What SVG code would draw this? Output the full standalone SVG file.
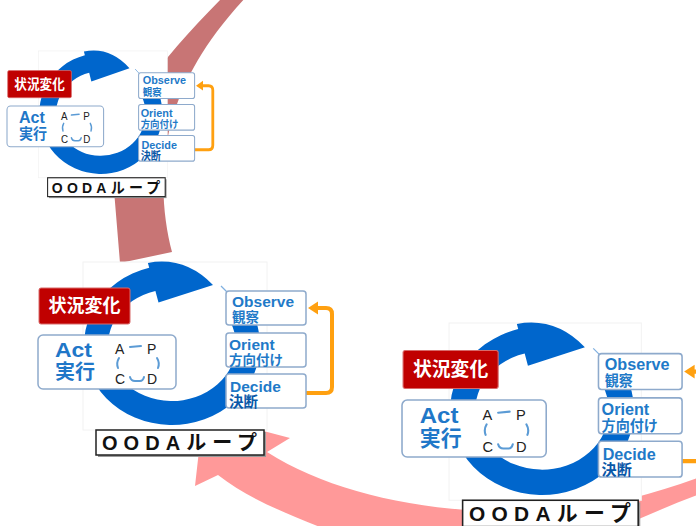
<svg xmlns="http://www.w3.org/2000/svg" width="696" height="526" viewBox="0 0 696 526">
<style>
.panel{fill:#fff;stroke:#f2f2f2;stroke-width:1}
.ring{fill:#0066cc}
.tick{stroke:#7fb0e0;stroke-width:1.2;fill:none}
.chg{fill:#c00000;stroke:#d86a6a;stroke-width:1}
.chgt{font-family:"Noto Sans CJK JP",sans-serif;font-weight:bold;font-size:18px;fill:#fff;text-anchor:middle}
.box{fill:#fff;stroke:#8eaacc;stroke-width:1.5}
.act{font-family:"Liberation Sans","Noto Sans CJK JP",sans-serif;font-weight:bold;font-size:21px;fill:#1f77c8}
.actj{font-family:"Noto Sans CJK JP",sans-serif;font-weight:bold;font-size:20px;fill:#1f77c8}
.pd{font-family:"Liberation Sans",sans-serif;font-size:14px;fill:#222}
.pdl{fill:none;stroke:#5b9bd5;stroke-width:2;stroke-linecap:round}
.en{font-family:"Liberation Sans",sans-serif;font-weight:bold;font-size:15.5px;fill:#1f7ac8}
.jp{font-family:"Noto Sans CJK JP",sans-serif;font-weight:bold;font-size:13.5px;fill:#1f7ac8}
.jpd{font-family:"Noto Sans CJK JP",sans-serif;font-weight:bold;font-size:14.5px;fill:#0a58a8}
.lbl{fill:#fff;stroke:#222;stroke-width:1.5}
.shd{fill:#9a9a9a}
.lblt{font-family:"Liberation Sans","Noto Sans CJK JP",sans-serif;font-weight:bold;font-size:20px;fill:#111}
.loop{fill:none;stroke:#ffa010;stroke-width:4;stroke-linejoin:round}
.loophead{fill:#ffa010}
.arcdark{fill:#c87575}
.arcpink{fill:#ff9999}
</style>

<g id="connectors">
  <path id="arc-top" class="arcdark" d="M225 -5 C160 60 112 120 113 178 L120 263 L172 252 C162 215 158 160 175 110 C185 80 205 40 248 -5 Z"/>
  <path id="arc-bottom" class="arcpink" d="M203 415 L290 438 L267 452 C330 492 420 512 520 512 C590 512 645 497 700 477 L700 494 C640 516 590 545 520 560 L340 535 C290 515 250 500 218 475 L195 486 Z"/>
  <g id="t-loop" transform="matrix(0.70 0 0 0.755 -19.6 -146.9)">
    <path class="loop" d="M306 393 H326 Q332 393 332 387 V314 Q332 308 326 308 H317"/>
    <polygon class="loophead" points="308,308 318,301.5 318,314.5"/>
  </g>
  <g id="m-loop">
    <path class="loop" d="M306 393 H326 Q332 393 332 387 V314 Q332 308 326 308 H317"/>
    <polygon class="loophead" points="308,308 318,301.5 318,314.5"/>
  </g>
  <g id="b-loop" transform="matrix(1.045 0 0 1.055 362.3 46.6)">
    <path class="loop" d="M306 393 H326 Q332 393 332 387 V314 Q332 308 326 308 H317"/>
    <polygon class="loophead" points="308,308 318,301.5 318,314.5"/>
  </g>
</g>

<g id="unit-top" transform="matrix(0.70 0 0 0.755 -19.6 -146.9)">
  <rect class="panel" x="83" y="262" width="184" height="168"/>
  <path id="t-ring" class="ring" d="M251.8 311.2 A88 80 0 1 1 149.2 267.7 L147.9 262.9 Q185 256 213 285 L158.5 302.5 L155.4 290.9 A64 56 0 1 0 230 321.3 Z"/>
  <g id="t-change"><rect class="chg" x="39" y="288" width="91" height="36" rx="2"/><text class="chgt" x="84.5" y="312">状況変化</text></g>
  <g id="t-act"><rect class="box" x="38" y="335" width="138" height="54" rx="5"/>
    <text class="act" x="55" y="357" textLength="37" lengthAdjust="spacingAndGlyphs">Act</text>
    <text class="actj" x="55" y="379">実行</text>
    <text class="pd" x="115" y="354">A</text><text class="pd" x="147" y="354">P</text>
    <text class="pd" x="115" y="384">C</text><text class="pd" x="147" y="384">D</text>
    <path class="pdl" d="M130 347 L141 346 M119 358 Q116 363 118 368 M157 358 Q160 363 158 368 M130 377 Q131 381 135 381 L140 381 Q143 381 144 377"/>
  </g>
  <g id="t-observe"><line class="tick" x1="221" y1="286" x2="227" y2="292"/><rect class="box" x="226" y="291" width="80" height="34" rx="3"/><text class="en" x="232" y="306.5">Observe</text><text class="jp" x="232" y="321.5">観察</text></g>
  <g id="t-orient"><rect class="box" x="226" y="333" width="80" height="34" rx="3"/><text class="en" x="229" y="349.5">Orient</text><text class="jp" x="229" y="364.5">方向付け</text></g>
  <g id="t-decide"><rect class="box" x="226" y="374" width="80" height="34" rx="3"/><text class="en" x="230" y="391.5">Decide</text><text class="jpd" x="229" y="406.5">決断</text></g>
  <g id="t-label"><rect class="shd" x="98" y="432" width="168" height="25"/><rect class="lbl" x="96" y="430" width="168" height="25"/><text class="lblt" x="102" y="450" textLength="155" lengthAdjust="spacing">OODAループ</text></g>
</g>

<g id="unit-middle">
  <rect class="panel" x="83" y="262" width="184" height="168"/>
  <path id="m-ring" class="ring" d="M251.8 311.2 A88 80 0 1 1 149.2 267.7 L147.9 262.9 Q185 256 213 285 L158.5 302.5 L155.4 290.9 A64 56 0 1 0 230 321.3 Z"/>
  <g id="m-change"><rect class="chg" x="39" y="288" width="91" height="36" rx="2"/><text class="chgt" x="84.5" y="312">状況変化</text></g>
  <g id="m-act"><rect class="box" x="38" y="335" width="138" height="54" rx="5"/>
    <text class="act" x="55" y="357" textLength="37" lengthAdjust="spacingAndGlyphs">Act</text>
    <text class="actj" x="55" y="379">実行</text>
    <text class="pd" x="115" y="354">A</text><text class="pd" x="147" y="354">P</text>
    <text class="pd" x="115" y="384">C</text><text class="pd" x="147" y="384">D</text>
    <path class="pdl" d="M130 347 L141 346 M119 358 Q116 363 118 368 M157 358 Q160 363 158 368 M130 377 Q131 381 135 381 L140 381 Q143 381 144 377"/>
  </g>
  <g id="m-observe"><line class="tick" x1="221" y1="286" x2="227" y2="292"/><rect class="box" x="226" y="291" width="80" height="34" rx="3"/><text class="en" x="232" y="306.5">Observe</text><text class="jp" x="232" y="321.5">観察</text></g>
  <g id="m-orient"><rect class="box" x="226" y="333" width="80" height="34" rx="3"/><text class="en" x="229" y="349.5">Orient</text><text class="jp" x="229" y="364.5">方向付け</text></g>
  <g id="m-decide"><rect class="box" x="226" y="374" width="80" height="34" rx="3"/><text class="en" x="230" y="391.5">Decide</text><text class="jpd" x="229" y="406.5">決断</text></g>
  <g id="m-label"><rect class="shd" x="98" y="432" width="168" height="25"/><rect class="lbl" x="96" y="430" width="168" height="25"/><text class="lblt" x="102" y="450" textLength="155" lengthAdjust="spacing">OODAループ</text></g>
</g>

<g id="unit-bottom" transform="matrix(1.045 0 0 1.055 362.3 46.6)">
  <rect class="panel" x="83" y="262" width="184" height="168"/>
  <path id="b-ring" class="ring" d="M251.8 311.2 A88 80 0 1 1 149.2 267.7 L147.9 262.9 Q185 256 213 285 L158.5 302.5 L155.4 290.9 A64 56 0 1 0 230 321.3 Z"/>
  <g id="b-change"><rect class="chg" x="39" y="288" width="91" height="36" rx="2"/><text class="chgt" x="84.5" y="312">状況変化</text></g>
  <g id="b-act"><rect class="box" x="38" y="335" width="138" height="54" rx="5"/>
    <text class="act" x="55" y="357" textLength="37" lengthAdjust="spacingAndGlyphs">Act</text>
    <text class="actj" x="55" y="379">実行</text>
    <text class="pd" x="115" y="354">A</text><text class="pd" x="147" y="354">P</text>
    <text class="pd" x="115" y="384">C</text><text class="pd" x="147" y="384">D</text>
    <path class="pdl" d="M130 347 L141 346 M119 358 Q116 363 118 368 M157 358 Q160 363 158 368 M130 377 Q131 381 135 381 L140 381 Q143 381 144 377"/>
  </g>
  <g id="b-observe"><line class="tick" x1="221" y1="286" x2="227" y2="292"/><rect class="box" x="226" y="291" width="80" height="34" rx="3"/><text class="en" x="232" y="306.5">Observe</text><text class="jp" x="232" y="321.5">観察</text></g>
  <g id="b-orient"><rect class="box" x="226" y="333" width="80" height="34" rx="3"/><text class="en" x="229" y="349.5">Orient</text><text class="jp" x="229" y="364.5">方向付け</text></g>
  <g id="b-decide"><rect class="box" x="226" y="374" width="80" height="34" rx="3"/><text class="en" x="230" y="391.5">Decide</text><text class="jpd" x="229" y="406.5">決断</text></g>
  <g id="b-label"><rect class="shd" x="98" y="432" width="168" height="25"/><rect class="lbl" x="96" y="430" width="168" height="25"/><text class="lblt" x="102" y="450" textLength="155" lengthAdjust="spacing">OODAループ</text></g>
</g>
</svg>
